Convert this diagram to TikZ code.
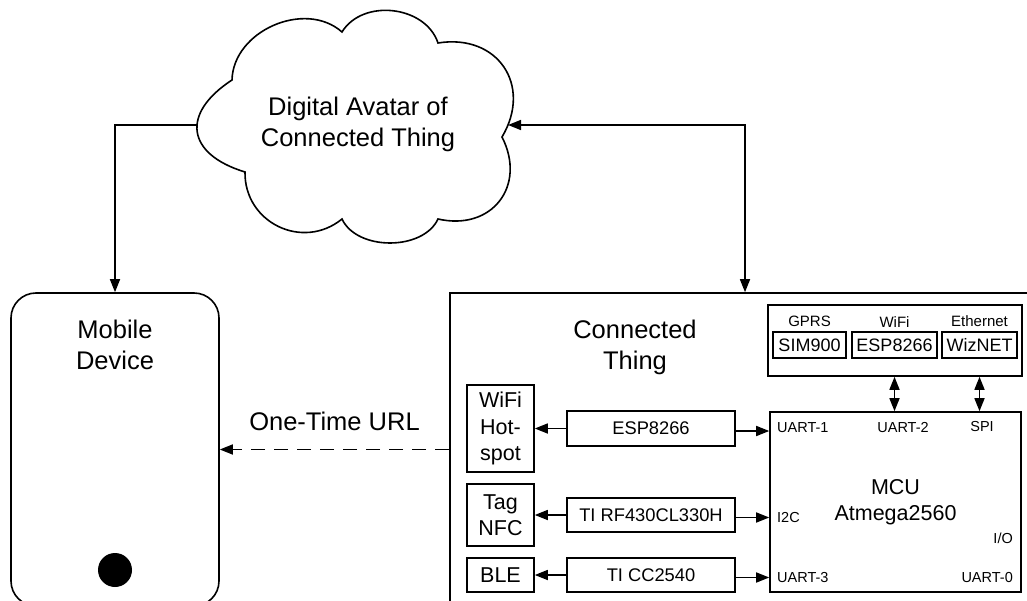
\documentclass[tikz,border=0pt]{standalone}
\usepackage{fontspec}
\setmainfont{Liberation Sans}
\usetikzlibrary{arrows.meta,positioning}
\tikzset{
  bigtxt/.style={font=\fontsize{25.5}{31}\selectfont,align=center,inner sep=0pt},
  frame/.style={draw,line width=1.6pt},
  radio/.style={frame,minimum width=67,inner sep=1pt,align=center,
    font=\fontsize{21.5}{26.5}\selectfont},
  module/.style={frame,minimum width=168,minimum height=34,inner sep=1pt,
    font=\fontsize{18.3}{20}\selectfont},
  chip/.style={frame,minimum height=26,inner sep=1pt,font=\fontsize{18}{20}\selectfont},
  sublab/.style={font=\fontsize{15}{17}\selectfont,inner sep=0pt,label distance=4pt},
  pin/.style={font=\fontsize{14.5}{17}\selectfont,inner sep=0pt},
  arr/.style={-{Triangle[length=13pt,width=10pt]},line width=1.6pt},
  dblarr/.style={{Triangle[length=13pt,width=10pt]}-{Triangle[length=13pt,width=10pt]},line width=1.6pt}
}

\begin{document}
\begin{tikzpicture}[x=1pt,y=-1pt,>=Latex]
  \useasboundingbox (0,0) rectangle (1027,601);
  \clip (0,0) rectangle (1027,601);
  % the cloud
  \draw[line width=1.6pt,fill=white] (232,80)
    .. controls (233.2,30.8) and (305.1,-0.6) .. (342,32)
    .. controls (362.7,-1.7) and (425.5,5.4) .. (438,43)
    .. controls (497.5,33.4) and (532.8,85.2) .. (502,137)
    .. controls (527,186.1) and (491.7,231.3) .. (438,219)
    .. controls (423.1,251) and (356.9,251) .. (342,219)
    .. controls (302.7,251) and (244.2,222.7) .. (245,172)
    .. controls (186.3,154.1) and (180.6,113.5) .. (232,80) -- cycle;
  \node[bigtxt] (avatar) at (358,124.4) {Digital Avatar of\\Connected Thing};
  \coordinate (cloudW) at (197.5,125);
  \coordinate (cloudE) at (508,125);

  % mobile device
  \node[frame,rounded corners=25pt,minimum width=208,minimum height=313] (mobile) at (115,449.5) {};
  \node[bigtxt] (mobiletxt) at (115,345.3) {Mobile\\Device};
  \fill (115,570) circle (17);

  % connected thing
  \node[frame,minimum width=590,minimum height=327] (thing) at (745,456.5) {};
  \node[bigtxt] (thingtxt) at (635,347.9) {Connected\\Thing};

  \node[radio,minimum height=87] (hotspot) at (500.5,428.5) {WiFi\\Hot-\\spot};
  \node[radio,minimum height=62] (nfc) at (500.5,515) {Tag\\NFC};
  \node[radio,minimum height=34] (ble) at (500.5,575) {BLE};

  \node[module,minimum height=35] (espmod) at (651,428.5) {ESP8266};
  \node[module] (rfmod) at (651,515) {TI RF430CL330H};
  \node[module] (ccmod) at (651,575) {TI CC2540};

  \node[frame,minimum width=251,minimum height=180,align=center,
    font=\fontsize{21.5}{26}\selectfont] (mcu) at (895.5,502) {MCU\\Atmega2560};
  \node[pin,anchor=west] (uart1) at (777,428) {UART-1};
  \node[pin] (uart2) at (903,428) {UART-2};
  \node[pin] (spi) at (982,427) {SPI};
  \node[pin,anchor=west] (itwoc) at (777,518) {I2C};
  \node[pin,anchor=east] (io) at (1013,538) {I/O};
  \node[pin,anchor=west] (uart3) at (777,578) {UART-3};
  \node[pin,anchor=east] (uart0) at (1013,578) {UART-0};

  \node[frame,minimum width=254,minimum height=71] (netbox) at (895,340.5) {};
  \node[chip,minimum width=73,label={[sublab]above:GPRS}] (sim) at (809.5,345) {SIM900};
  \node[chip,minimum width=85,label={[sublab]above:WiFi}] (wifimod) at (894.5,345) {ESP8266};
  \node[chip,minimum width=75,label={[sublab]above:Ethernet}] (wiz) at (979.5,345) {WizNET};

  % connectors
  \draw[arr] (cloudW) -| (mobile.north);
  \draw[dblarr] (cloudE) -| (thing.north);
  \draw[arr,dash pattern=on 14pt off 9pt] (mobile.east -| thing.west) -- (mobile.east)
    node[midway,bigtxt,above=18pt] (url) {One-Time URL};

  \draw[arr] (espmod) -- (hotspot);
  \draw[arr] (rfmod) -- (nfc);
  \draw[arr] (ccmod) -- (ble);
  \draw[arr] ([yshift=-2.5pt]espmod.east) -- ([yshift=-2.5pt]espmod.east -| mcu.west);
  \draw[arr] ([yshift=-2.5pt]rfmod.east) -- ([yshift=-2.5pt]rfmod.east -| mcu.west);
  \draw[arr] ([yshift=-2.5pt]ccmod.east) -- ([yshift=-2.5pt]ccmod.east -| mcu.west);
  \draw[dblarr] (wifimod.south |- netbox.south) -- (wifimod.south |- mcu.north);
  \draw[dblarr] (wiz.south |- netbox.south) -- (wiz.south |- mcu.north);
\end{tikzpicture}
\end{document}
